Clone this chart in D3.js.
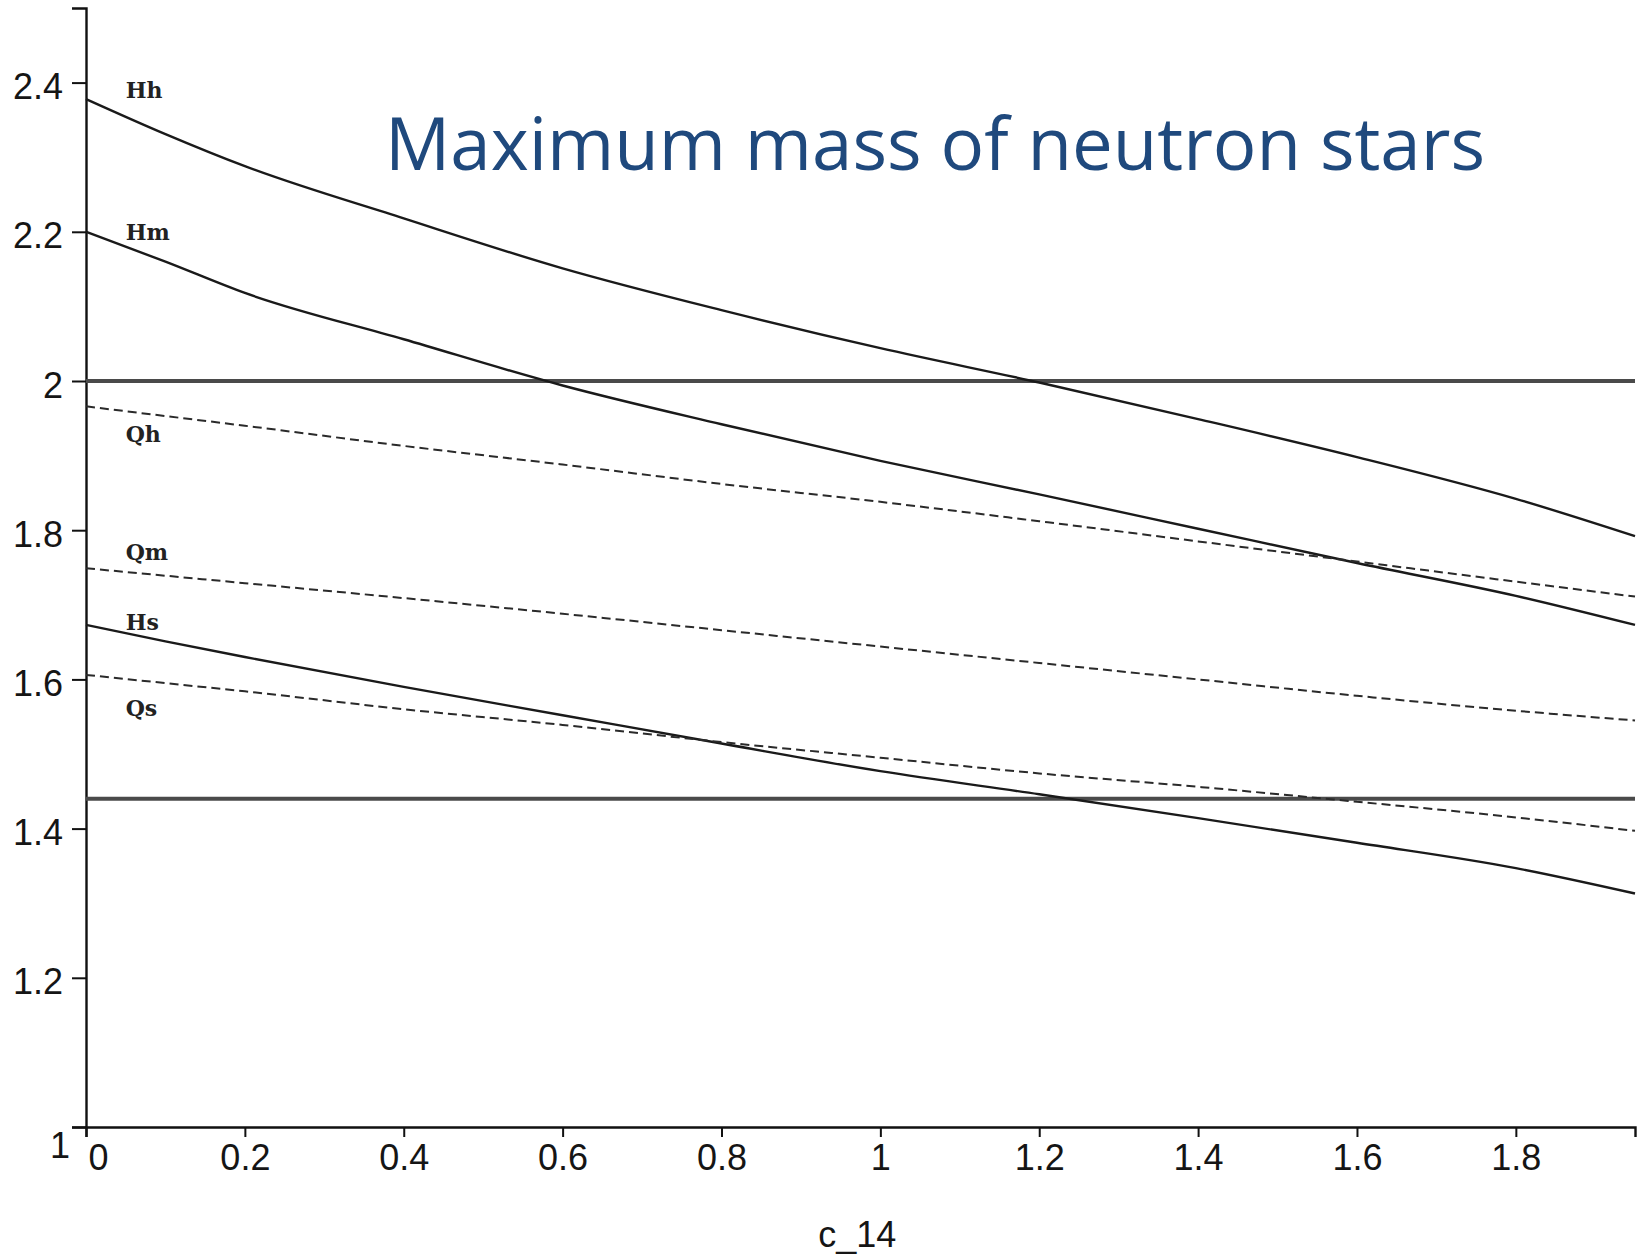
<!DOCTYPE html>
<html>
<head>
<meta charset="utf-8">
<script src="https://cdn.jsdelivr.net/npm/d3@7"></script>
<style>
  html, body { margin: 0; padding: 0; background: #fff; }
  svg { display: block; }
</style>
</head>
<body>
<svg id="chart" width="1644" height="1258"></svg>
<script>
// ---- data ----
const xs = [0, 0.1, 0.2, 0.4, 0.6, 0.8, 1.0, 1.2, 1.4, 1.6, 1.8, 1.95];
const seriesNames = ["Hh", "Hm", "Qh", "Qm", "Hs", "Qs"];
const seriesDashed = [false, false, true, true, false, true];
const Hh = [2.378, 2.331, 2.288, 2.218, 2.151, 2.095, 2.044, 1.998, 1.949, 1.898, 1.842, 1.792];
const Hm = [2.200, 2.160, 2.118, 2.056, 1.994, 1.942, 1.893, 1.848, 1.802, 1.756, 1.712, 1.673];
const Qh = [1.966, 1.953, 1.940, 1.913, 1.888, 1.862, 1.838, 1.812, 1.785, 1.758, 1.731, 1.711];
const Qm = [1.749, 1.739, 1.729, 1.709, 1.688, 1.666, 1.644, 1.622, 1.600, 1.578, 1.558, 1.545];
const Hs = [1.673, 1.651, 1.630, 1.590, 1.552, 1.514, 1.477, 1.446, 1.414, 1.381, 1.347, 1.313];
const Qs = [1.606, 1.595, 1.584, 1.560, 1.539, 1.516, 1.495, 1.474, 1.456, 1.436, 1.415, 1.397];
const seriesValues = [Hh, Hm, Qh, Qm, Hs, Qs];
const labelX = 0.05;
const labelY = [2.379, 2.189, 1.918, 1.760, 1.666, 1.551];
const refLines = [2.0, 1.44];
const yMajor = [1, 1.2, 1.4, 1.6, 1.8, 2, 2.2, 2.4];
const yMajorLabels = ["1", "1.2", "1.4", "1.6", "1.8", "2", "2.2", "2.4"];
const xMajor = [0, 0.2, 0.4, 0.6, 0.8, 1, 1.2, 1.4, 1.6, 1.8];
const xMajorLabels = ["0", "0.2", "0.4", "0.6", "0.8", "1", "1.2", "1.4", "1.6", "1.8"];
const xDomain = [0, 1.95];
const yDomain = [1, 2.5];
const title = "Maximum mass of neutron stars";
const xTitle = "c_14";

// ---- layout ----
const svg = d3.select("#chart");
svg.append("rect").attr("width", 1644).attr("height", 1258).attr("fill", "#fff");
const x = d3.scaleLinear().domain(xDomain).range([86, 1635]);
const y = d3.scaleLinear().domain(yDomain).range([1127, 8]);

const axisFont = "'Liberation Sans', Arial, sans-serif";

// minor ticks
const yMinor = d3.range(1, 2.5001, 0.04).filter(v => !yMajor.some(m => Math.abs(m - v) < 1e-6));
const xMinor = d3.range(0, 1.9501, 0.04).filter(v => !xMajor.some(m => Math.abs(m - v) < 1e-6));

// Y axis
const gy = svg.append("g").attr("transform", `translate(${x(0)},0)`);
gy.call(d3.axisLeft(y).tickValues(yMinor).tickSize(7).tickFormat(""));
gy.call(d3.axisLeft(y).tickValues(yMajor).tickSize(14).tickFormat((d, i) => yMajorLabels[i]));
gy.selectAll("path.domain").attr("stroke", "#111").attr("stroke-width", 2.4);
gy.selectAll(".tick line").attr("stroke", "#111").attr("stroke-width", 2);
gy.selectAll(".tick text")
  .attr("font-family", axisFont).attr("font-size", 36).attr("fill", "#151515")
  .attr("x", -23).attr("dy", "16px")
  .filter(d => d === 1).attr("x", -16).attr("dy", "30px");

// X axis
const gx = svg.append("g").attr("transform", `translate(0,${y(1)})`);
gx.call(d3.axisBottom(x).tickValues(xMinor).tickSize(5).tickFormat(""));
gx.call(d3.axisBottom(x).tickValues(xMajor).tickSize(10).tickFormat((d, i) => xMajorLabels[i]));
gx.selectAll("path.domain").attr("stroke", "#111").attr("stroke-width", 2.4);
gx.selectAll(".tick line").attr("stroke", "#111").attr("stroke-width", 2);
gx.selectAll(".tick text")
  .attr("font-family", axisFont).attr("font-size", 36).attr("fill", "#151515")
  .attr("y", 0).attr("dy", "43px")
  .filter(d => d === 0).attr("text-anchor", "start").attr("x", 2);

// reference lines
svg.append("g").selectAll("line").data(refLines).join("line")
  .attr("x1", x(xDomain[0])).attr("x2", x(xDomain[1]))
  .attr("y1", d => y(d)).attr("y2", d => y(d))
  .attr("stroke", "#4a4a4a").attr("stroke-width", 4);

// curves
const line = d3.line().x((d, i) => x(xs[i])).y(d => y(d)).curve(d3.curveMonotoneX);
svg.append("g").selectAll("path").data(seriesValues).join("path")
  .attr("d", d => line(d))
  .attr("fill", "none")
  .attr("stroke", (d, i) => seriesDashed[i] ? "#2a2a2a" : "#1a1a1a")
  .attr("stroke-width", (d, i) => seriesDashed[i] ? 2 : 2.4)
  .attr("stroke-dasharray", (d, i) => seriesDashed[i] ? "9,5" : null);

// series labels
svg.append("g").selectAll("text").data(seriesNames).join("text")
  .attr("x", x(labelX)).attr("y", (d, i) => y(labelY[i]))
  .attr("font-family", "'DejaVu Serif', serif").attr("font-weight", "bold")
  .attr("font-size", 22).attr("fill", "#222")
  .text(d => d);

// title
svg.append("text")
  .attr("x", 385).attr("y", 170)
  .attr("font-family", "'Open Sans', sans-serif").attr("font-size", 74)
  .attr("fill", "#1F497D")
  .attr("textLength", 1100).attr("lengthAdjust", "spacingAndGlyphs")
  .text(title);

// x axis title
svg.append("text")
  .attr("x", x(1) - 23).attr("y", 1247)
  .attr("text-anchor", "middle")
  .attr("font-family", axisFont).attr("font-size", 36).attr("fill", "#151515")
  .text(xTitle);
</script>
</body>
</html>
